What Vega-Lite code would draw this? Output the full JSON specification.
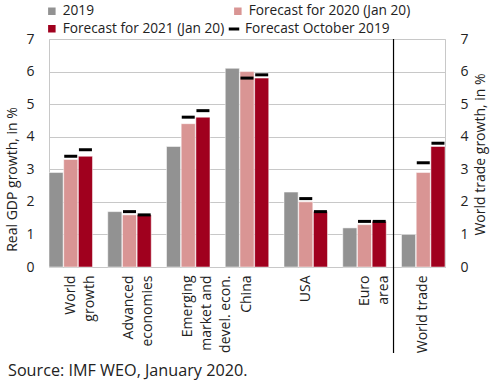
{
  "$schema": "https://vega.github.io/schema/vega-lite/v6.json",
  "autosize": "none",
  "width": 396,
  "height": 228,
  "padding": {"left": 49, "top": 39, "right": 45, "bottom": 115},
  "background": "white",
  "config": {
    "font": "Open Sans",
    "view": {"stroke": "#c8c8c8", "strokeWidth": 1},
    "axis": {"labelFont": "Open Sans", "titleFont": "Open Sans", "labelColor": "#222", "titleColor": "#222"},
    "legend": {"labelFont": "Open Sans", "labelColor": "#222", "labelFontSize": 13.7, "labelLimit": 300}
  },
  "title": {"text": "Source: IMF WEO, January 2020.", "orient": "bottom", "anchor": "start", "frame": "group", "dx": -41, "offset": 9, "fontSize": 16.2, "fontWeight": "normal", "font": "Open Sans", "color": "#222"},
  "datasets": {
    "bars": [
      {"cat": "World|growth", "series": "2019", "pos": "2019", "value": 2.9},
      {"cat": "World|growth", "series": "Forecast for 2020 (Jan 20)", "pos": "2020", "value": 3.3},
      {"cat": "World|growth", "series": "Forecast for 2021 (Jan 20)", "pos": "2021", "value": 3.4},
      {"cat": "Advanced|economies", "series": "2019", "pos": "2019", "value": 1.7},
      {"cat": "Advanced|economies", "series": "Forecast for 2020 (Jan 20)", "pos": "2020", "value": 1.6},
      {"cat": "Advanced|economies", "series": "Forecast for 2021 (Jan 20)", "pos": "2021", "value": 1.6},
      {"cat": "Emerging|market and|devel. econ.", "series": "2019", "pos": "2019", "value": 3.7},
      {"cat": "Emerging|market and|devel. econ.", "series": "Forecast for 2020 (Jan 20)", "pos": "2020", "value": 4.4},
      {"cat": "Emerging|market and|devel. econ.", "series": "Forecast for 2021 (Jan 20)", "pos": "2021", "value": 4.6},
      {"cat": "China", "series": "2019", "pos": "2019", "value": 6.1},
      {"cat": "China", "series": "Forecast for 2020 (Jan 20)", "pos": "2020", "value": 6.0},
      {"cat": "China", "series": "Forecast for 2021 (Jan 20)", "pos": "2021", "value": 5.8},
      {"cat": "USA", "series": "2019", "pos": "2019", "value": 2.3},
      {"cat": "USA", "series": "Forecast for 2020 (Jan 20)", "pos": "2020", "value": 2.0},
      {"cat": "USA", "series": "Forecast for 2021 (Jan 20)", "pos": "2021", "value": 1.7},
      {"cat": "Euro|area", "series": "2019", "pos": "2019", "value": 1.2},
      {"cat": "Euro|area", "series": "Forecast for 2020 (Jan 20)", "pos": "2020", "value": 1.3},
      {"cat": "Euro|area", "series": "Forecast for 2021 (Jan 20)", "pos": "2021", "value": 1.4},
      {"cat": "World trade", "series": "2019", "pos": "2019", "value": 1.0},
      {"cat": "World trade", "series": "Forecast for 2020 (Jan 20)", "pos": "2020", "value": 2.9},
      {"cat": "World trade", "series": "Forecast for 2021 (Jan 20)", "pos": "2021", "value": 3.7}
    ],
    "oct": [
      {"cat": "World|growth", "series": "Forecast October 2019", "pos": "2020", "value": 3.4},
      {"cat": "World|growth", "series": "Forecast October 2019", "pos": "2021", "value": 3.6},
      {"cat": "Advanced|economies", "series": "Forecast October 2019", "pos": "2020", "value": 1.7},
      {"cat": "Advanced|economies", "series": "Forecast October 2019", "pos": "2021", "value": 1.6},
      {"cat": "Emerging|market and|devel. econ.", "series": "Forecast October 2019", "pos": "2020", "value": 4.6},
      {"cat": "Emerging|market and|devel. econ.", "series": "Forecast October 2019", "pos": "2021", "value": 4.8},
      {"cat": "China", "series": "Forecast October 2019", "pos": "2020", "value": 5.8},
      {"cat": "China", "series": "Forecast October 2019", "pos": "2021", "value": 5.9},
      {"cat": "USA", "series": "Forecast October 2019", "pos": "2020", "value": 2.1},
      {"cat": "USA", "series": "Forecast October 2019", "pos": "2021", "value": 1.7},
      {"cat": "Euro|area", "series": "Forecast October 2019", "pos": "2020", "value": 1.4},
      {"cat": "Euro|area", "series": "Forecast October 2019", "pos": "2021", "value": 1.4},
      {"cat": "World trade", "series": "Forecast October 2019", "pos": "2020", "value": 3.2},
      {"cat": "World trade", "series": "Forecast October 2019", "pos": "2021", "value": 3.8}
    ],
    "divider": [{"cat": "World trade"}]
  },
  "encoding": {
    "x": {
      "field": "cat", "type": "nominal", "sort": null,
      "scale": {"domain": ["World|growth", "Advanced|economies", "Emerging|market and|devel. econ.", "China", "USA", "Euro|area", "World trade"], "paddingInner": 0.26, "paddingOuter": 0},
      "axis": {"title": null, "labelAngle": -90, "labelAlign": "right", "labelBaseline": "middle", "labelFontSize": 14, "labelLineHeight": 19, "labelPadding": 8, "ticks": false, "domain": false, "labelExpr": "split(datum.label, '|')"}
    }
  },
  "layer": [
    {
      "data": {"name": "bars"},
      "mark": {"type": "bar", "stroke": "white", "strokeWidth": 0.5},
      "encoding": {
        "xOffset": {"field": "pos", "type": "nominal", "scale": {"domain": ["2019", "2020", "2021"], "paddingInner": 0.04}},
        "y": {
          "field": "value", "type": "quantitative",
          "scale": {"domain": [0, 7], "nice": false},
          "axis": {"title": "Real GDP growth, in %", "titleFontSize": 14, "titleFontWeight": "normal", "titleX": -37, "titleY": 140, "titleBaseline": "middle", "labelFontSize": 14, "labelPadding": 15, "ticks": false, "domain": false, "tickCount": 7, "grid": true, "gridColor": "#c8c8c8", "gridWidth": 1}
        },
        "color": {
          "field": "series", "type": "nominal",
          "scale": {"domain": ["2019", "Forecast for 2020 (Jan 20)", "Forecast for 2021 (Jan 20)"], "range": ["#929292", "#d99594", "#a0001e"]},
          "legend": {
            "title": null, "orient": "none", "legendX": -4, "legendY": -35, "direction": "horizontal", "columns": 2,
            "symbolSize": 81, "symbolType": "square", "columnPadding": 5, "rowPadding": 2, "labelOffset": 4
          }
        }
      }
    },
    {
      "data": {"name": "oct"},
      "mark": {"type": "tick", "orient": "horizontal", "thickness": 3, "size": 13, "opacity": 1},
      "encoding": {
        "xOffset": {"field": "pos", "type": "nominal"},
        "y": {
          "field": "value", "type": "quantitative",
          "axis": {"orient": "right", "title": "World trade growth, in %", "titleAngle": 270, "titleFontSize": 14, "titleFontWeight": "normal", "titleX": 35, "titleY": 115, "titleBaseline": "middle", "labelFontSize": 14, "labelPadding": 15, "ticks": false, "domain": false, "tickCount": 7, "grid": false}
        },
        "color": {
          "field": "series", "type": "nominal",
          "scale": {"domain": ["Forecast October 2019"], "range": ["#000000"]},
          "legend": {"title": null, "orient": "none", "legendX": 178, "legendY": -17, "symbolType": "stroke", "symbolStrokeWidth": 3, "symbolSize": 110, "labelOffset": 4, "symbolStrokeColor": "#000000"}
        }
      }
    },
    {
      "data": {"name": "divider"},
      "mark": {"type": "rule", "color": "#000000", "strokeWidth": 1.2, "xOffset": -8, "clip": false},
      "encoding": {
        "x": {"field": "cat", "type": "nominal", "bandPosition": 0},
        "y": {"datum": 7, "axis": null},
        "y2": {"datum": -2.64}
      }
    }
  ],
  "resolve": {"axis": {"y": "independent"}, "scale": {"y": "shared", "color": "independent"}, "legend": {"color": "independent"}}
}
